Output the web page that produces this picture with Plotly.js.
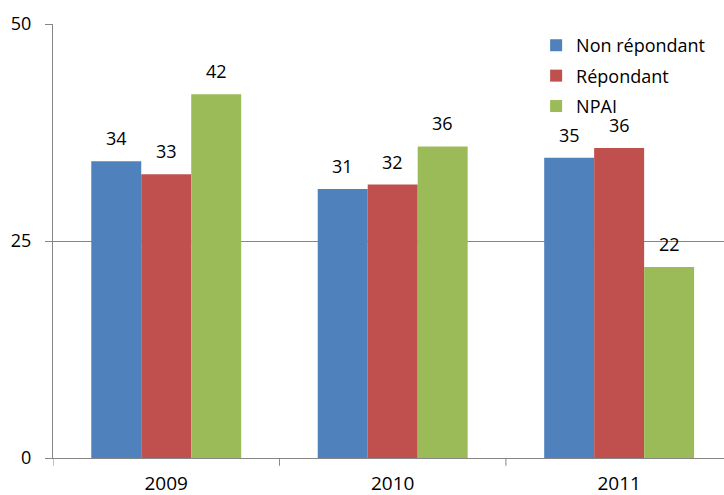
<!DOCTYPE html>
<html>
<head>
<meta charset="utf-8">
<script src="https://cdn.plot.ly/plotly-3.0.1.min.js"></script>
<style>
  html, body { margin: 0; padding: 0; background: #fff; }
  #chart { width: 724px; height: 495px; }
</style>
</head>
<body>
<div id="chart"></div>
<script>
// Années et séries
const years = ["2009", "2010", "2011"];
const seriesNames = ["Non répondant", "Répondant", "NPAI"];
const nonRepondant = [34.2, 31.0, 34.6];
const repondant = [32.7, 31.5, 35.7];
const npai = [41.9, 35.9, 22.0];
const labelsNonRep = ["34", "31", "35"];
const labelsRep = ["33", "32", "36"];
const labelsNpai = ["42", "36", "22"];

const colors = ["#4F81BD", "#C0504D", "#9BBB59"];
const values = [nonRepondant, repondant, npai];
const labels = [labelsNonRep, labelsRep, labelsNpai];
const font = "Open Sans, sans-serif";
const bargap = 0.338;

const xIdx = years.map((y, i) => i);

const traces = values.map((vals, s) => ({
  x: xIdx,
  y: vals,
  type: "bar",
  name: seriesNames[s],
  legendgroup: "g" + s,
  marker: { color: colors[s] },
  hoverinfo: "skip",
}));

// Étiquettes au-dessus des barres
const barW = (1 - bargap) / 3;
const annotations = [];
values.forEach((vals, s) => {
  vals.forEach((v, i) => {
    annotations.push({
      x: i + (s - 1) * barW,
      y: v,
      xref: "x",
      yref: "y",
      text: labels[s][i],
      showarrow: false,
      yanchor: "bottom",
      yshift: 9,
      font: { family: font, size: 18, color: "#000" },
    });
  });
});

const layout = {
  width: 724,
  height: 495,
  margin: { l: 53, r: 0, t: 23.5, b: 37 },
  paper_bgcolor: "#fff",
  plot_bgcolor: "#fff",
  barmode: "group",
  bargap: bargap,
  bargroupgap: 0,
  showlegend: true,
  legend: {
    x: 0.72,
    y: 0.993,
    xanchor: "left",
    yanchor: "top",
    traceorder: "grouped",
    tracegroupgap: 4,
    bgcolor: "rgba(0,0,0,0)",
    font: { family: font, size: 18, color: "#000" },
  },
  xaxis: {
    type: "linear",
    range: [-0.5, 2.463],
    tickmode: "array",
    tickvals: xIdx,
    ticktext: years,
    showline: true,
    linecolor: "#868686",
    linewidth: 1,
    ticks: "",
    ticklabelstandoff: 8,
    showgrid: false,
    zeroline: false,
    tickfont: { family: font, size: 19, color: "#000" },
  },
  yaxis: {
    range: [0, 50],
    tickvals: [0, 25, 50],
    showline: true,
    linecolor: "#868686",
    linewidth: 1,
    ticks: "outside",
    ticklen: 7,
    tickcolor: "#868686",
    ticklabelstandoff: 10,
    showgrid: true,
    gridcolor: "#868686",
    gridwidth: 1,
    zeroline: false,
    tickfont: { family: font, size: 18, color: "#000" },
  },
  // séparateurs de catégories sur l'axe x
  shapes: [-0.5, 0.5, 1.5].map((b) => ({
    type: "line",
    xref: "x",
    yref: "paper",
    x0: b,
    x1: b,
    y0: 0,
    y1: -0.018,
    line: { color: "#868686", width: 1 },
  })),
  annotations: annotations,
};

Plotly.newPlot("chart", traces, layout, { displayModeBar: false, staticPlot: true });
</script>
</body>
</html>
